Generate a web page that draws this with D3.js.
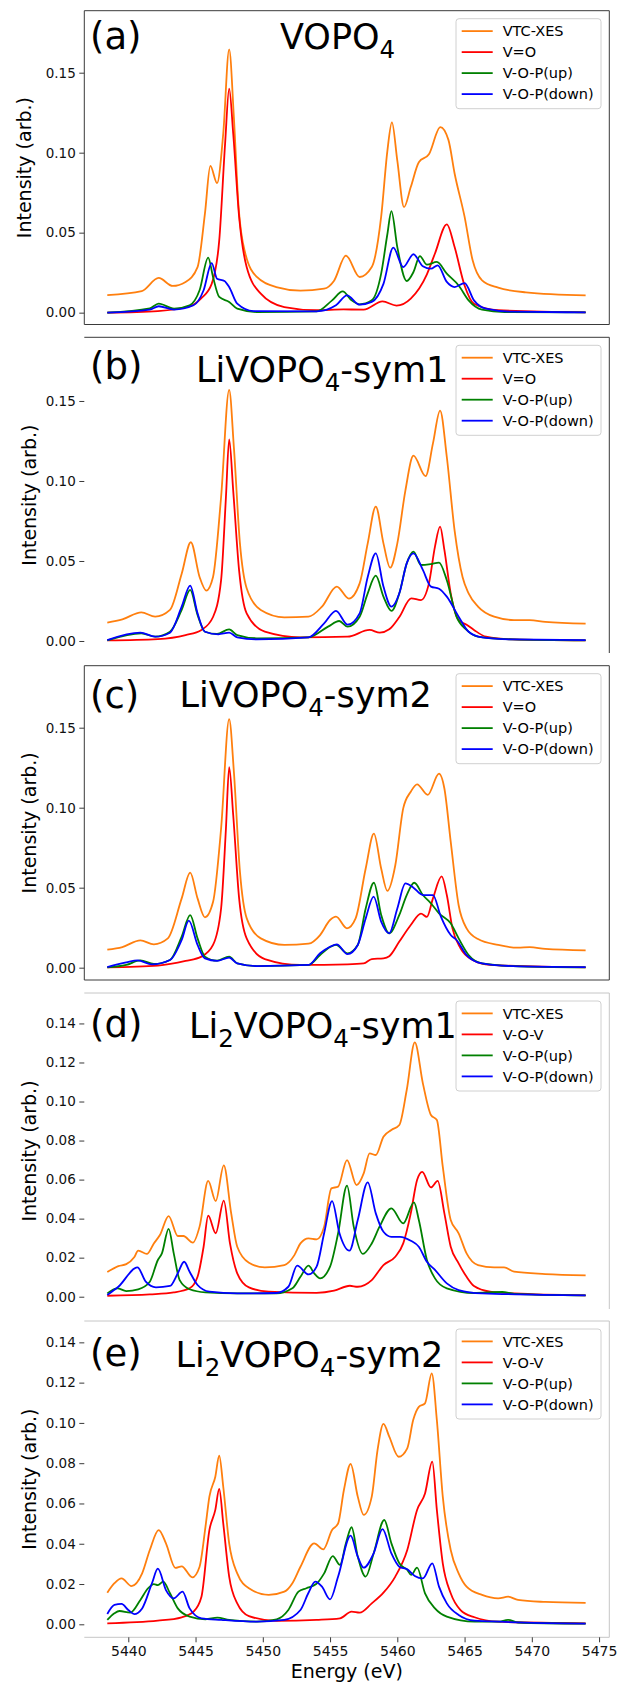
<!DOCTYPE html>
<html>
<head>
<meta charset="utf-8">
<script src="https://cdn.jsdelivr.net/npm/d3@7"></script>
<style>
  body { margin: 0; background: #fff; }
  svg text { font-family: "DejaVu Sans", sans-serif; }
</style>
</head>
<body>
<script>
// tick labels and text
const energyTicks = [5440, 5445, 5450, 5455, 5460, 5465, 5470, 5475]
const yTicksV = [0, 0.05, 0.10, 0.15]
const yTicksLi2 = [0, 0.02, 0.04, 0.06, 0.08, 0.10, 0.12, 0.14]
const panelLetters = ["(a)", "(b)", "(c)", "(d)", "(e)"]
const panelTitles = ["VOPO_4", "LiVOPO_4-sym1", "LiVOPO_4-sym2", "Li_2VOPO_4-sym1", "Li_2VOPO_4-sym2"]
const legendV = ["VTC-XES", "V=O", "V-O-P(up)", "V-O-P(down)"]
const legendLi2 = ["VTC-XES", "V-O-V", "V-O-P(up)", "V-O-P(down)"]

// (a) VOPO4  -- [energy (eV), intensity]
const vtcA = [[5438.44,0.0110],[5441.0,0.0135],[5442.26,0.0217],[5443.3,0.0167],[5444.26,0.0192],[5445.15,0.0285],[5445.7,0.062],[5446.1,0.0917],[5446.6,0.081],[5447.06,0.112],[5447.5,0.1646],[5447.85,0.122],[5448.2,0.066],[5448.7,0.037],[5449.56,0.0223],[5451.0,0.016],[5452.8,0.0138],[5454.56,0.015],[5455.3,0.020],[5456.18,0.0356],[5457.2,0.0223],[5458.1,0.0285],[5458.8,0.060],[5459.26,0.101],[5459.6,0.119],[5460.0,0.095],[5460.5,0.066],[5461.0,0.0785],[5461.6,0.094],[5462.35,0.099],[5463.2,0.116],[5463.8,0.108],[5464.26,0.087],[5465.0,0.060],[5465.6,0.0327],[5466.3,0.0202],[5467.5,0.0156],[5469.56,0.0127],[5474.0,0.0108]]
const vOA = [[5438.44,0],[5442.2,0.001],[5444.56,0.004],[5445.4,0.0088],[5446.2,0.018],[5446.76,0.045],[5447.2,0.106],[5447.5,0.140],[5447.8,0.112],[5448.24,0.060],[5448.8,0.0285],[5449.85,0.0119],[5451.6,0.0035],[5454.0,0.0015],[5456.0,0.002],[5457.5,0.0019],[5458.9,0.007],[5459.94,0.0044],[5461.0,0.0088],[5462.2,0.024],[5462.8,0.037],[5463.68,0.0552],[5464.26,0.041],[5465.0,0.017],[5465.7,0.0056],[5467.5,0.0015],[5474.0,0.0002]]
const upA = [[5438.44,0],[5441.6,0.0027],[5442.26,0.0056],[5443.4,0.0025],[5444.56,0.0046],[5445.3,0.014],[5445.94,0.0344],[5446.3,0.0223],[5446.76,0.0098],[5447.5,0.0067],[5448.1,0.0025],[5449.56,0.0004],[5454.0,0.0008],[5455.15,0.0077],[5455.94,0.0133],[5456.6,0.0077],[5457.2,0.0052],[5458.1,0.0077],[5458.8,0.0244],[5459.26,0.049],[5459.56,0.0635],[5460.0,0.041],[5460.7,0.0198],[5461.2,0.0254],[5461.68,0.0354],[5462.2,0.030],[5462.94,0.0317],[5463.68,0.0244],[5464.56,0.017],[5465.3,0.0077],[5466.3,0.0019],[5468.0,0.0004],[5474.0,0.0002]]
const downA = [[5438.44,0],[5441.6,0.0019],[5442.26,0.004],[5443.4,0.0019],[5444.85,0.0046],[5445.6,0.014],[5446.2,0.031],[5446.6,0.0212],[5447.15,0.0198],[5447.5,0.016],[5448.1,0.0056],[5449.3,0.001],[5454.0,0.0008],[5455.44,0.0046],[5456.26,0.0108],[5457.2,0.005],[5458.1,0.0067],[5458.97,0.018],[5459.7,0.0406],[5460.44,0.0285],[5461.2,0.0365],[5461.9,0.029],[5462.5,0.0275],[5463.0,0.0296],[5463.68,0.0192],[5464.26,0.016],[5465.0,0.0185],[5465.7,0.0077],[5466.6,0.0025],[5468.5,0.0006],[5474.0,0.0002]]

// (b) LiVOPO4-sym1
const vtcB = [[5438.44,0.0115],[5439.56,0.0135],[5440.97,0.0179],[5442.0,0.0152],[5443.1,0.0194],[5443.97,0.042],[5444.65,0.0617],[5445.3,0.040],[5445.8,0.0315],[5446.3,0.040],[5446.9,0.090],[5447.5,0.157],[5447.85,0.121],[5448.3,0.061],[5448.8,0.033],[5449.85,0.0194],[5451.6,0.0148],[5453.4,0.0152],[5454.4,0.0215],[5455.5,0.034],[5456.4,0.0265],[5457.2,0.036],[5457.8,0.061],[5458.4,0.084],[5458.97,0.061],[5459.47,0.0458],[5460.0,0.061],[5460.6,0.094],[5461.2,0.1158],[5462.1,0.103],[5462.65,0.1235],[5463.18,0.144],[5463.68,0.115],[5464.26,0.069],[5464.85,0.040],[5465.3,0.0298],[5466.0,0.0215],[5467.2,0.0152],[5468.68,0.0131],[5469.85,0.0131],[5471.0,0.0119],[5474.0,0.0108]]
const vOB = [[5438.44,0.0004],[5442.2,0.0012],[5444.26,0.0037],[5445.44,0.0069],[5446.3,0.015],[5446.9,0.038],[5447.26,0.090],[5447.5,0.126],[5447.8,0.094],[5448.24,0.044],[5448.8,0.0173],[5450.15,0.0058],[5452.8,0.0023],[5456.3,0.0027],[5457.94,0.0069],[5458.7,0.0052],[5459.4,0.0073],[5460.15,0.015],[5461.03,0.0267],[5461.76,0.0256],[5462.35,0.036],[5462.8,0.059],[5463.18,0.0715],[5463.5,0.0569],[5463.97,0.0298],[5464.56,0.0131],[5465.15,0.0102],[5465.7,0.0069],[5466.6,0.0027],[5468.6,0.001],[5474.0,0.0004]]
const upB = [[5438.44,0.0004],[5440.97,0.0048],[5442.0,0.0027],[5443.1,0.0058],[5443.97,0.0194],[5444.6,0.0319],[5445.15,0.0163],[5445.7,0.0058],[5446.6,0.0044],[5447.5,0.0073],[5448.1,0.0037],[5449.56,0.0017],[5453.4,0.0023],[5454.85,0.009],[5455.68,0.0125],[5456.3,0.009],[5457.2,0.0152],[5457.8,0.0298],[5458.4,0.0408],[5458.97,0.0277],[5459.56,0.0188],[5460.15,0.0298],[5460.7,0.0485],[5461.2,0.0558],[5461.76,0.0475],[5462.5,0.0481],[5463.1,0.049],[5463.68,0.038],[5464.4,0.0152],[5465.15,0.0069],[5466.0,0.0027],[5468.6,0.001],[5474.0,0.0004]]
const downB = [[5438.44,0.0006],[5440.9,0.0052],[5442.0,0.0027],[5443.1,0.0052],[5443.97,0.0215],[5444.6,0.0346],[5445.15,0.0173],[5445.7,0.0058],[5446.7,0.0042],[5447.5,0.0052],[5448.1,0.0023],[5449.56,0.001],[5453.4,0.0023],[5454.56,0.011],[5455.44,0.0188],[5456.3,0.0102],[5457.2,0.0173],[5457.8,0.040],[5458.4,0.0548],[5458.97,0.034],[5459.56,0.0215],[5460.15,0.0298],[5460.7,0.0485],[5461.2,0.0548],[5461.9,0.0444],[5462.5,0.034],[5463.1,0.0327],[5463.68,0.0277],[5464.56,0.0152],[5465.3,0.0058],[5466.3,0.0023],[5468.6,0.001],[5474.0,0.0006]]

// (c) LiVOPO4-sym2
const vtcC = [[5438.44,0.0113],[5439.56,0.0129],[5440.9,0.0171],[5441.9,0.0146],[5442.94,0.0183],[5443.97,0.0433],[5444.6,0.0594],[5445.15,0.0433],[5445.7,0.0315],[5446.3,0.041],[5446.9,0.087],[5447.5,0.1554],[5447.85,0.1225],[5448.3,0.060],[5448.8,0.031],[5449.85,0.0183],[5451.6,0.0142],[5453.4,0.015],[5454.26,0.0204],[5455.0,0.0298],[5455.44,0.0319],[5456.26,0.0246],[5456.9,0.0308],[5457.65,0.062],[5458.26,0.0838],[5458.8,0.062],[5459.26,0.048],[5459.85,0.064],[5460.44,0.0996],[5461.0,0.110],[5461.47,0.1146],[5462.26,0.108],[5463.1,0.1213],[5463.5,0.112],[5463.97,0.0788],[5464.56,0.039],[5465.15,0.0246],[5466.0,0.0179],[5467.5,0.0142],[5468.97,0.0125],[5469.85,0.0129],[5471.0,0.0117],[5474.0,0.0108]]
const vOC = [[5438.44,0.0002],[5442.2,0.0013],[5444.26,0.0042],[5445.44,0.0069],[5446.3,0.0142],[5446.9,0.037],[5447.26,0.087],[5447.5,0.1254],[5447.8,0.0954],[5448.24,0.0433],[5448.8,0.0183],[5450.15,0.0054],[5452.8,0.0017],[5456.3,0.0021],[5457.5,0.0027],[5458.1,0.0054],[5458.97,0.0058],[5459.4,0.0071],[5460.15,0.0163],[5461.0,0.0267],[5461.76,0.0338],[5462.2,0.0317],[5462.65,0.0433],[5463.3,0.0571],[5463.68,0.0454],[5464.1,0.0246],[5464.7,0.0121],[5465.6,0.0048],[5466.9,0.0017],[5474.0,0.0002]]
const upC = [[5438.44,0.0002],[5439.85,0.0017],[5440.9,0.0046],[5441.9,0.0023],[5443.1,0.0048],[5443.97,0.0194],[5444.6,0.0329],[5445.15,0.0183],[5445.7,0.0069],[5446.6,0.0044],[5447.5,0.0069],[5448.1,0.0027],[5449.56,0.001],[5453.4,0.0017],[5454.26,0.0079],[5455.0,0.0129],[5455.44,0.0142],[5456.3,0.009],[5457.06,0.0142],[5457.65,0.037],[5458.26,0.0531],[5458.8,0.033],[5459.4,0.0215],[5460.15,0.033],[5460.7,0.0454],[5461.26,0.0531],[5461.9,0.0454],[5462.5,0.0402],[5463.1,0.034],[5463.97,0.0277],[5464.56,0.0183],[5465.3,0.0079],[5466.3,0.0027],[5468.6,0.001],[5474.0,0.0002]]
const downC = [[5438.44,0.0004],[5439.85,0.0033],[5440.7,0.0046],[5441.75,0.0021],[5443.1,0.0048],[5443.97,0.0173],[5444.5,0.0294],[5445.15,0.0142],[5445.7,0.0058],[5446.6,0.0042],[5447.5,0.0063],[5448.1,0.0027],[5449.56,0.001],[5453.4,0.0017],[5454.26,0.009],[5455.0,0.0131],[5455.5,0.0146],[5456.3,0.0085],[5457.06,0.0142],[5457.65,0.0308],[5458.24,0.0444],[5458.8,0.0288],[5459.4,0.0215],[5460.0,0.037],[5460.6,0.0527],[5461.2,0.050],[5461.9,0.0454],[5462.65,0.0454],[5463.24,0.0319],[5463.97,0.0204],[5464.4,0.0173],[5465.15,0.0079],[5466.3,0.0027],[5468.6,0.001],[5474.0,0.0004]]

// (d) Li2VOPO4-sym1
const vtcD = [[5438.44,0.0126],[5439.26,0.0157],[5439.85,0.0167],[5440.44,0.0202],[5440.74,0.0236],[5441.38,0.0219],[5441.9,0.0273],[5442.35,0.0316],[5443.0,0.0413],[5443.68,0.0311],[5444.1,0.0311],[5444.8,0.0277],[5445.3,0.0359],[5445.94,0.0593],[5446.5,0.049],[5447.1,0.0673],[5447.65,0.0427],[5448.1,0.0256],[5448.97,0.0174],[5450.15,0.015],[5451.6,0.0162],[5452.35,0.0213],[5452.8,0.0273],[5453.4,0.0299],[5454.0,0.0294],[5454.56,0.0359],[5455.1,0.0555],[5455.6,0.0564],[5456.26,0.070],[5456.97,0.0572],[5457.5,0.0632],[5457.94,0.0734],[5458.4,0.0726],[5458.97,0.082],[5459.56,0.0854],[5460.15,0.088],[5460.7,0.1059],[5461.3,0.1303],[5461.9,0.1093],[5462.5,0.0931],[5462.94,0.0905],[5463.38,0.0666],[5463.97,0.0393],[5464.56,0.0325],[5465.15,0.0222],[5466.0,0.0162],[5467.2,0.015],[5467.94,0.015],[5468.68,0.0128],[5471.0,0.0116],[5474.0,0.0109]]
const vovD = [[5438.44,0.0005],[5441.6,0.0012],[5443.38,0.0022],[5444.56,0.0043],[5445.15,0.0102],[5445.6,0.0256],[5445.94,0.0415],[5446.5,0.0325],[5447.1,0.0492],[5447.56,0.0273],[5448.1,0.012],[5448.97,0.0048],[5450.44,0.0026],[5454.0,0.002],[5455.3,0.0031],[5456.47,0.0056],[5457.06,0.0051],[5458.1,0.0085],[5458.97,0.0162],[5459.85,0.0205],[5460.44,0.0273],[5461.0,0.0427],[5461.47,0.0598],[5461.85,0.064],[5462.5,0.056],[5463.0,0.0593],[5463.5,0.0427],[5463.97,0.0256],[5464.56,0.0171],[5465.15,0.0102],[5465.7,0.0055],[5466.9,0.0026],[5468.7,0.0017],[5474.0,0.0007]]
const upD = [[5438.44,0.0017],[5439.18,0.0043],[5439.85,0.0029],[5440.74,0.0038],[5441.6,0.0077],[5442.2,0.0188],[5442.5,0.0222],[5443.0,0.0348],[5443.38,0.0222],[5443.82,0.0085],[5444.56,0.0038],[5445.74,0.0022],[5448.1,0.0017],[5451.0,0.0017],[5452.2,0.0043],[5452.8,0.0102],[5453.4,0.0159],[5453.82,0.012],[5454.26,0.0094],[5455.0,0.0154],[5455.6,0.0325],[5456.26,0.0569],[5456.76,0.0359],[5457.44,0.0219],[5458.1,0.0273],[5458.68,0.0359],[5459.56,0.0453],[5460.44,0.0376],[5461.24,0.0483],[5461.6,0.0393],[5462.2,0.0188],[5462.8,0.0094],[5463.68,0.0043],[5465.7,0.0019],[5467.8,0.0024],[5468.7,0.0015],[5474.0,0.0007]]
const downD = [[5438.44,0.0009],[5439.26,0.0051],[5440.68,0.015],[5441.3,0.0077],[5442.06,0.0048],[5443.1,0.0055],[5443.68,0.012],[5444.15,0.0179],[5444.56,0.0128],[5445.15,0.006],[5446.03,0.0026],[5448.1,0.0017],[5451.0,0.0019],[5451.9,0.0051],[5452.56,0.0159],[5453.4,0.0114],[5454.0,0.0154],[5454.56,0.0325],[5455.15,0.049],[5455.7,0.0325],[5456.44,0.0236],[5457.06,0.0393],[5457.8,0.0586],[5458.4,0.0427],[5458.97,0.0333],[5459.56,0.0307],[5460.2,0.0307],[5461.0,0.0287],[5461.6,0.0256],[5462.2,0.0179],[5462.8,0.0137],[5463.68,0.0068],[5464.56,0.0034],[5466.3,0.0017],[5474.0,0.0007]]

// (e) Li2VOPO4-sym2
const vtcE = [[5438.44,0.0157],[5438.97,0.0204],[5439.5,0.0228],[5440.24,0.019],[5441.03,0.0253],[5441.6,0.0369],[5442.26,0.0468],[5442.8,0.0402],[5443.5,0.0280],[5443.97,0.0288],[5444.76,0.0233],[5445.3,0.0286],[5445.74,0.0485],[5446.03,0.0634],[5446.47,0.0733],[5446.76,0.0837],[5447.06,0.0683],[5447.5,0.0402],[5448.1,0.0253],[5448.97,0.0179],[5450.44,0.0146],[5451.6,0.0162],[5452.2,0.0204],[5452.8,0.0286],[5453.82,0.0402],[5454.5,0.0372],[5455.15,0.0468],[5455.6,0.0501],[5456.03,0.0667],[5456.53,0.0796],[5457.06,0.0634],[5457.5,0.0543],[5458.1,0.0634],[5458.53,0.0865],[5458.97,0.0995],[5459.4,0.0932],[5460.1,0.0832],[5460.74,0.0874],[5461.18,0.1014],[5461.6,0.108],[5462.06,0.1097],[5462.56,0.1246],[5462.94,0.1014],[5463.38,0.0634],[5463.97,0.0369],[5464.56,0.0253],[5465.15,0.0187],[5466.3,0.0146],[5467.5,0.0129],[5468.24,0.0137],[5468.97,0.0121],[5471.0,0.0111],[5474.0,0.0106]]
const vovE = [[5438.44,0.0005],[5442.2,0.0018],[5443.97,0.0035],[5444.85,0.0063],[5445.44,0.0137],[5446.03,0.0468],[5446.47,0.0568],[5446.76,0.0672],[5447.06,0.0501],[5447.5,0.0237],[5448.1,0.0104],[5448.97,0.0041],[5451.0,0.0017],[5454.0,0.0022],[5455.74,0.003],[5456.6,0.0063],[5457.2,0.0058],[5458.1,0.0104],[5458.97,0.0157],[5459.85,0.0237],[5460.74,0.0369],[5461.47,0.0568],[5462.06,0.065],[5462.6,0.0808],[5462.94,0.0568],[5463.38,0.0303],[5463.97,0.0154],[5464.7,0.0071],[5465.74,0.0035],[5467.5,0.0013],[5474.0,0.0005]]
const upE = [[5438.44,0.0022],[5438.97,0.0055],[5439.35,0.0066],[5440.15,0.0058],[5440.9,0.0121],[5441.47,0.0179],[5441.9,0.02],[5442.2,0.0195],[5442.6,0.0212],[5443.1,0.0154],[5443.68,0.0079],[5444.56,0.0038],[5445.74,0.0025],[5446.62,0.0033],[5447.5,0.0022],[5449.56,0.0013],[5451.03,0.0025],[5451.9,0.0071],[5452.65,0.0162],[5453.24,0.0179],[5453.97,0.02],[5454.56,0.0253],[5455.2,0.0339],[5455.74,0.0295],[5456.18,0.0402],[5456.6,0.0482],[5457.06,0.0336],[5457.65,0.0237],[5458.24,0.0352],[5459.03,0.0518],[5459.56,0.0402],[5460.15,0.0303],[5460.74,0.027],[5461.03,0.0245],[5461.47,0.0281],[5462.06,0.0154],[5462.8,0.0079],[5463.68,0.0038],[5465.74,0.0013],[5467.5,0.0013],[5468.24,0.0022],[5468.97,0.0009],[5474.0,0.0003]]
const downE = [[5438.44,0.0051],[5438.97,0.0096],[5439.5,0.0101],[5440.0,0.0071],[5440.44,0.0051],[5441.03,0.0079],[5441.76,0.0204],[5442.2,0.0276],[5442.8,0.017],[5443.38,0.0129],[5444.03,0.0162],[5444.56,0.0079],[5445.44,0.003],[5446.91,0.0022],[5449.56,0.0013],[5451.6,0.0022],[5452.8,0.0071],[5453.38,0.0154],[5453.9,0.0212],[5454.4,0.0187],[5455.0,0.0124],[5455.6,0.0237],[5456.53,0.044],[5457.06,0.0336],[5457.5,0.0281],[5458.24,0.0352],[5458.9,0.0473],[5459.56,0.0352],[5460.15,0.0286],[5460.74,0.0273],[5461.3,0.024],[5461.9,0.0228],[5462.6,0.0303],[5463.1,0.0187],[5463.68,0.0104],[5464.56,0.0046],[5465.74,0.0018],[5474.0,0.0003]]

// layout (pixels) - each panel was a separate picture, so offsets differ a bit
const W = 619, H = 1686
const plotLeft = 84.3, plotRight = 609.3
const boxes = [[10.7, 324.5], [337.3, 653], [665.7, 980], [993, 1309], [1321, 1637.3]]
const yDomains = [[-0.0074, 0.18875], [-0.0075, 0.1898], [-0.0077, 0.18875], [-0.0063, 0.1556], [-0.00645, 0.1506]]
const letterDy = [37.8, 41.3, 41.9, 44, 45]
const titleDy = [38.3, 44.4, 41, 45.3, 46.3]
const titleX = [280, 196, 179.5, 189, 175.5]
const ylabelX = [31, 36, 36, 36, 36]
const dark = "#3a3a3a", light = "#c6c6c6"
const spines = [
    {top: dark, right: dark, bottom: dark, left: dark},
    {top: dark, right: dark},
    {top: dark, right: dark, bottom: dark, left: dark},
    {top: light, right: light},
    {top: light, right: light, bottom: light}
]
const colors = ["#ff7f0e", "#ff0000", "#008000", "#0000ff"]

const panels = [
    {series: [vtcA, vOA, upA, downA], legend: legendV, ticks: yTicksV},
    {series: [vtcB, vOB, upB, downB], legend: legendV, ticks: yTicksV},
    {series: [vtcC, vOC, upC, downC], legend: legendV, ticks: yTicksV},
    {series: [vtcD, vovD, upD, downD], legend: legendLi2, ticks: yTicksLi2},
    {series: [vtcE, vovE, upE, downE], legend: legendLi2, ticks: yTicksLi2}
]

const svg = d3.select("body").append("svg")
    .attr("width", W)
    .attr("height", H)

const x = d3.scaleLinear()
    .domain([5436.73, 5475.76])
    .range([plotLeft, plotRight])

panels.forEach(function(p, i) {
    let top = boxes[i][0], bottom = boxes[i][1]
    let y = d3.scaleLinear().domain(yDomains[i]).range([bottom, top])
    let g = svg.append("g").attr("class", "panel")

    // curves
    let line = d3.line()
        .x(function(d) { return x(d[0]) })
        .y(function(d) { return y(d[1]) })
        .curve(d3.curveMonotoneX)

    p.series.forEach(function(s, k) {
        g.append("path")
            .datum(s)
            .attr("d", line)
            .attr("fill", "none")
            .attr("stroke", colors[k])
            .attr("stroke-width", 1.8)
            .attr("stroke-linejoin", "round")
    })

    // spines
    let sp = spines[i]
    if (sp.top) g.append("line").attr("x1", plotLeft).attr("x2", plotRight).attr("y1", top).attr("y2", top).attr("stroke", sp.top)
    if (sp.bottom) g.append("line").attr("x1", plotLeft).attr("x2", plotRight).attr("y1", bottom).attr("y2", bottom).attr("stroke", sp.bottom)
    if (sp.left) g.append("line").attr("x1", plotLeft).attr("x2", plotLeft).attr("y1", top).attr("y2", bottom).attr("stroke", sp.left)
    if (sp.right) g.append("line").attr("x1", plotRight).attr("x2", plotRight).attr("y1", top).attr("y2", bottom).attr("stroke", sp.right)

    // y axis
    let yAxis = g.append("g")
        .attr("transform", `translate(${plotLeft},0)`)
        .call(d3.axisLeft(y).tickValues(p.ticks).tickFormat(d3.format(".2f")).tickSize(5).tickPadding(3.5))
    yAxis.select(".domain").remove()
    yAxis.selectAll(".tick line").attr("stroke", dark)
    yAxis.selectAll(".tick text")
        .attr("font-family", "DejaVu Sans")
        .attr("font-size", 13.5)
        .attr("fill", "#111")

    g.append("text")
        .attr("transform", `translate(${ylabelX[i]},${(top + bottom) / 2}) rotate(-90)`)
        .attr("text-anchor", "middle")
        .attr("font-size", 19)
        .attr("fill", "#000")
        .text("Intensity (arb.)")

    // panel letter and title
    g.append("text")
        .attr("x", 90)
        .attr("y", top + letterDy[i])
        .attr("font-size", 37)
        .attr("fill", "#000")
        .text(panelLetters[i])

    let title = g.append("text")
        .attr("x", titleX[i])
        .attr("y", top + titleDy[i])
        .attr("font-size", 35)
        .attr("fill", "#000")
    let parts = panelTitles[i].split(/_(\d)/)
    let shift = 0
    parts.forEach(function(t, j) {
        if (t === "") return
        let isSub = j % 2 === 1
        let want = isSub ? 9 : 0
        title.append("tspan")
            .attr("dy", want - shift)
            .attr("font-size", isSub ? 24.5 : 35)
            .text(t)
        shift = want
    })

    // legend
    let lx = 456, ly = top + 8
    let leg = g.append("g").attr("transform", `translate(${lx},${ly})`)
    leg.append("rect")
        .attr("width", 145)
        .attr("height", 90)
        .attr("rx", 3)
        .attr("fill", "#fff")
        .attr("fill-opacity", 0.85)
        .attr("stroke", "#d0d0d0")
    p.legend.forEach(function(name, k) {
        let ry = 12.4 + 21 * k
        leg.append("line")
            .attr("x1", 5.7).attr("x2", 36.7)
            .attr("y1", ry).attr("y2", ry)
            .attr("stroke", colors[k])
            .attr("stroke-width", 1.8)
        leg.append("text")
            .attr("x", 46.7)
            .attr("y", ry + 5.2)
            .attr("font-size", 14.5)
            .attr("fill", "#000")
            .text(name)
    })

    // energy axis only on the last panel
    if (i === panels.length - 1) {
        let xAxis = g.append("g")
            .attr("transform", `translate(0,${bottom})`)
            .call(d3.axisBottom(x).tickValues(energyTicks).tickFormat(d3.format("d")).tickSize(5).tickPadding(4))
        xAxis.select(".domain").remove()
        xAxis.selectAll(".tick line").attr("stroke", dark)
        xAxis.selectAll(".tick text")
            .attr("font-family", "DejaVu Sans")
            .attr("font-size", 14)
            .attr("fill", "#111")

        g.append("text")
            .attr("x", (plotLeft + plotRight) / 2)
            .attr("y", 1678)
            .attr("text-anchor", "middle")
            .attr("font-size", 19)
            .attr("fill", "#000")
            .text("Energy (eV)")
    }
})
</script>
</body>
</html>
